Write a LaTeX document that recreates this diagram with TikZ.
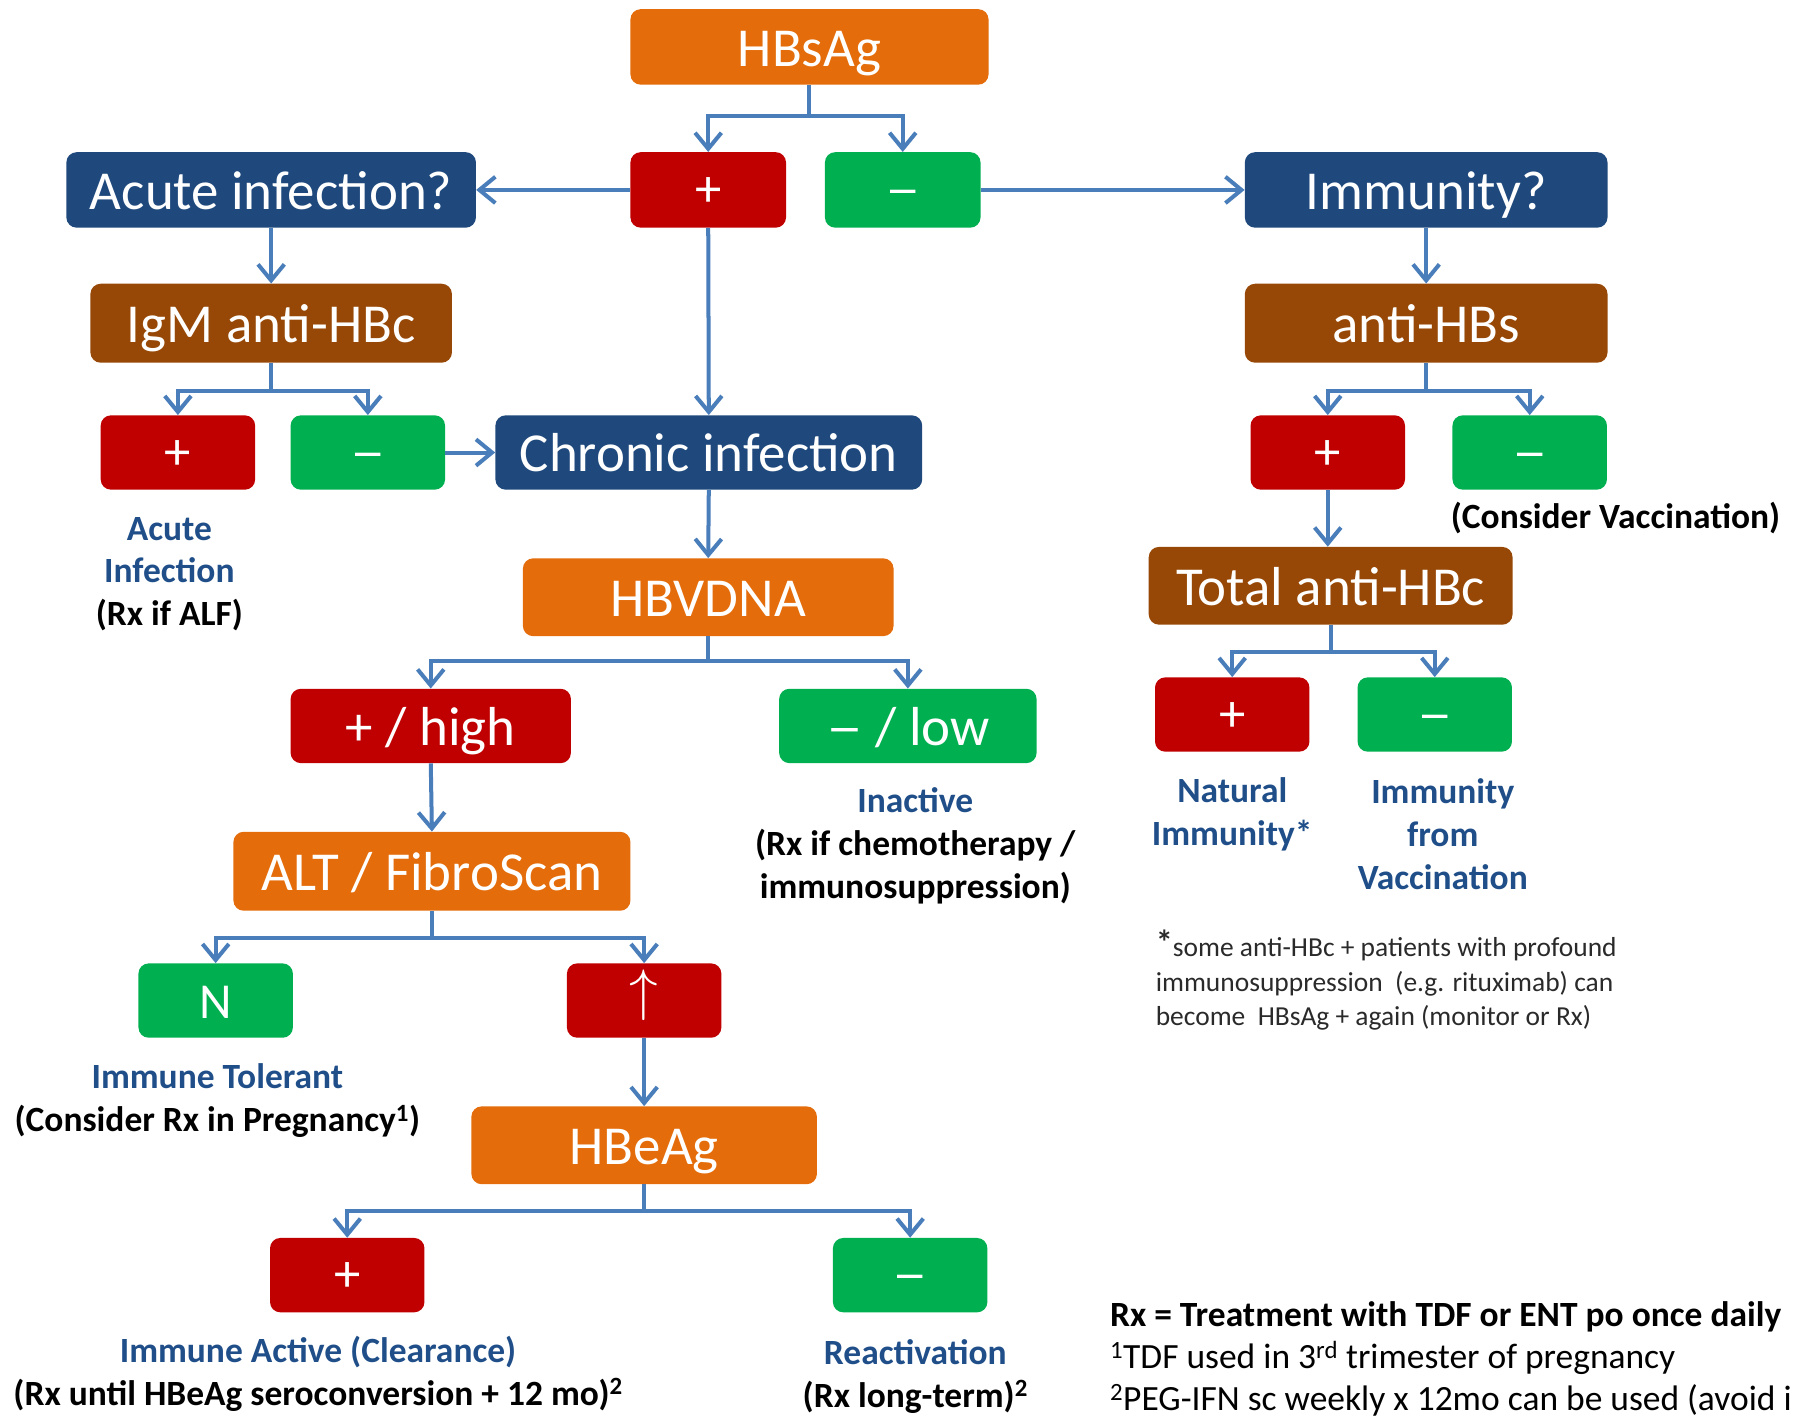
\documentclass[tikz,border=0pt]{standalone}
\usepackage{fontspec}
\setmainfont{Carlito}
\usetikzlibrary{arrows.meta}
\definecolor{cOr}{HTML}{E46C0A}
\definecolor{cRd}{HTML}{C00000}
\definecolor{cGn}{HTML}{00B050}
\definecolor{cNv}{HTML}{1F497D}
\definecolor{cBr}{HTML}{974806}
\definecolor{cLn}{HTML}{4A7EBB}
\definecolor{cBl}{HTML}{1F4E89}
\definecolor{cFt}{HTML}{2A2A2A}
\newcommand{\mydash}{\scalebox{1.35}[1]{–}}
\begin{document}
\begin{tikzpicture}[x=1pt,y=-1pt,
  rb/.style={rounded corners=9pt, inner sep=0pt, text=white},
  bx/.style={rb, font=\fontsize{48}{56}\selectfont, text height=34pt, text depth=0pt},
  sgb/.style={rb, minimum width=135pt, minimum height=65pt},
  sg/.style={sgb, font=\fontsize{46}{54}\selectfont, text height=29pt, text depth=0pt},
  ln/.style={draw=cLn, line width=3.5pt},
  ar/.style={ln, -{Straight Barb[length=14pt,width=23pt]}},
  lbl/.style={font=\fontsize{31}{37.5}\selectfont\bfseries, align=center, inner sep=0pt, anchor=base},
  ftn/.style={font=\fontsize{24}{30}\selectfont, text=cFt, inner sep=0pt, anchor=base west},
  rxt/.style={font=\fontsize{31}{37}\selectfont, text=black, inner sep=0pt, anchor=base west}]
\useasboundingbox (0,0) rectangle (1568,1242);
% boxes
\node[bx, fill=cOr, minimum width=313pt, minimum height=66pt] (hbsag) at (707.5,41) {HBsAg};
\node[sg, fill=cRd, minimum width=136pt, minimum height=66pt] (p1) at (619,166) {+};
\node[sg, fill=cGn, minimum width=136pt, minimum height=66pt] (m1) at (789,166) {\mydash};
\node[bx, fill=cNv, minimum width=358pt, minimum height=66pt] (acute) at (237,166) {Acute infection?};
\node[bx, fill=cNv, minimum width=317pt, minimum height=66pt] (immun) at (1246.5,166) {Immunity?};
\node[bx, fill=cBr, minimum width=316pt, minimum height=69pt] (igm) at (237,282.5) {IgM anti-HBc};
\node[bx, fill=cBr, minimum width=317pt, minimum height=69pt] (antihbs) at (1246.5,282.5) {anti-HBs};
\node[sg, fill=cRd] (p2) at (155.5,395.5) {+};
\node[sg, fill=cGn] (m2) at (321.5,395.5) {\mydash};
\node[bx, fill=cNv, minimum width=373pt, minimum height=65pt] (chronic) at (619.5,395.5) {Chronic infection};
\node[sg, fill=cRd] (p3) at (1160.5,395.5) {+};
\node[sg, fill=cGn] (m3) at (1337,395.5) {\mydash};
\node[bx, fill=cOr, minimum width=324pt, minimum height=68pt] (hbvdna) at (619,522) {HBVDNA};
\node[bx, fill=cBr, minimum width=318pt, minimum height=68pt] (total) at (1163,512) {Total anti-HBc};
\node[bx, fill=cRd, minimum width=245pt, minimum height=65pt] (high) at (376.5,634.5) {+ / high};
\node[bx, fill=cGn, minimum width=225pt, minimum height=65pt] (low) at (793.5,634.5) {\mydash{} / low};
\node[sg, fill=cRd] (p4) at (1077,624.5) {+};
\node[sg, fill=cGn] (m4) at (1254,624.5) {\mydash};
\node[bx, fill=cOr, minimum width=347pt, minimum height=69pt] (alt) at (377.5,761.5) {ALT / FibroScan};
\node[sgb, fill=cGn, font=\fontsize{44}{50}\selectfont, text height=31pt, text depth=0pt] (nn) at (188.5,874.5) {N};
\node[sgb, fill=cRd, text height=16pt, text depth=0pt] (up) at (563,874.5) {\scalebox{5}{$\uparrow$}};
\node[bx, fill=cOr, minimum width=302pt, minimum height=68pt] (hbeag) at (563,1001) {HBeAg};
\node[sg, fill=cRd] (p5) at (303.5,1114.5) {+};
\node[sg, fill=cGn] (m5) at (795.5,1114.5) {\mydash};
% branch points
\coordinate (b1) at (707.5,101);
\coordinate (b2) at (237,342);
\coordinate (b3) at (1246.5,342);
\coordinate (b4) at (619,578);
\coordinate (b5) at (1163,570);
\coordinate (b6) at (377.5,820);
\coordinate (b7) at (563,1058);
% connectors
\draw[ln] (hbsag.south) -- (b1);
\draw[ar] (b1) -| (p1.north);
\draw[ar] (b1) -| (m1.north);
\draw[ar] (p1.west) -- (acute.east);
\draw[ar] (m1.east) -- (immun.west);
\draw[ar] (p1.south) -- (chronic.north);
\draw[ar] (acute.south) -- (igm.north);
\draw[ln] (igm.south) -- (b2);
\draw[ar] (b2) -| (p2.north);
\draw[ar] (b2) -| (m2.north);
\draw[ar] (m2.east) -- (chronic.west);
\draw[ar] (chronic.south) -- (hbvdna.north);
\draw[ln] (hbvdna.south) -- (b4);
\draw[ar] (b4) -| (high.north);
\draw[ar] (b4) -| (low.north);
\draw[ar] (high.south) -- (alt.north);
\draw[ln] (alt.south) -- (b6);
\draw[ar] (b6) -| (nn.north);
\draw[ar] (b6) -| (up.north);
\draw[ar] (up.south) -- (hbeag.north);
\draw[ln] (hbeag.south) -- (b7);
\draw[ar] (b7) -| (p5.north);
\draw[ar] (b7) -| (m5.north);
\draw[ar] (immun.south) -- (antihbs.north);
\draw[ln] (antihbs.south) -- (b3);
\draw[ar] (b3) -| (p3.north);
\draw[ar] (b3) -| (m3.north);
\draw[ar] (p3.south) -- (p3.south |- total.north);
\draw[ln] (total.south) -- (b5);
\draw[ar] (b5) -| (p4.north);
\draw[ar] (b5) -| (m4.north);
% labels (anchor = baseline of last line)
\node[lbl] (lacute) at (148,547) {\textcolor{cBl}{Acute}\\\textcolor{cBl}{Infection}\\(Rx if ALF)};
\node[lbl] (lvacc) at (1412,462) {(Consider Vaccination)};
\node[lbl] (linact) at (800,785) {\textcolor{cBl}{Inactive}\\(Rx if chemotherapy /\\immunosuppression)};
\node[lbl, text=cBl] (lnat) at (1077,739) {Natural\\Immunity*};
\node[lbl, text=cBl] (lvac) at (1261,777) {Immunity\\from\\Vaccination};
\node[lbl] (ltol) at (190,989) {\textcolor{cBl}{Immune Tolerant}\\(Consider Rx in Pregnancy\textsuperscript{1})};
\node[lbl] (lact) at (278,1228) {\textcolor{cBl}{Immune Active (Clearance)}\\(Rx until HBeAg seroconversion + 12 mo)\textsuperscript{2}};
\node[lbl] (lreac) at (800,1230) {\textcolor{cBl}{Reactivation}\\(Rx long-term)\textsuperscript{2}};
% footnotes
\node[ftn] (f1) at (1010,836) {\textbf{\fontsize{30}{30}\selectfont\raisebox{2pt}{*}}some anti-HBc + patients with profound};
\node[ftn] (f2) at (1010,867) {immunosuppression~ (e.g. rituximab) can};
\node[ftn] (f3) at (1010,896) {become~ HBsAg + again (monitor or Rx)};
\node[rxt, font=\fontsize{31}{37}\selectfont\bfseries] (r1) at (970,1159) {Rx = Treatment with TDF or ENT po once daily};
\node[rxt] (r2) at (970,1196) {\textsuperscript{1}TDF used in 3\textsuperscript{rd} trimester of pregnancy};
\node[rxt] (r3) at (970,1233) {\textsuperscript{2}PEG-IFN sc weekly x 12mo can be used (avoid i};
\end{tikzpicture}
\end{document}
